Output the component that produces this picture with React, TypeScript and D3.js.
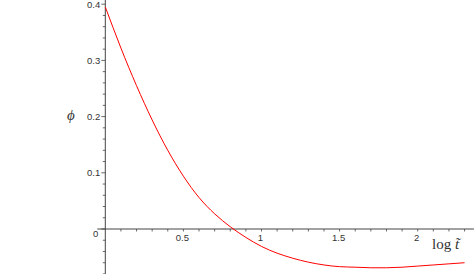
import React from 'react';
import { scaleLinear, line, range, curveNatural } from 'd3';

const width = 474;
const height = 274;

// log t~ sample points and phi
const logT = [0, 0.1, 0.2, 0.3, 0.4, 0.5, 0.6, 0.7, 0.8, 0.9, 1.0, 1.1, 1.2, 1.3, 1.4, 1.5, 1.6, 1.7, 1.8, 1.9, 2.0, 2.1, 2.2, 2.3];
const phi = [0.395, 0.322, 0.255, 0.194, 0.140, 0.094, 0.056, 0.027, 0.004, -0.015, -0.031, -0.043, -0.052, -0.059, -0.064, -0.067, -0.068, -0.069, -0.069, -0.068, -0.066, -0.064, -0.062, -0.060];

const xTickLabels = [0.5, 1, 1.5, 2];
const yTickLabels = [0.1, 0.2, 0.3, 0.4];

const xMax = 2.36;
const yMin = -0.08;
const yMax = 0.408;

function App() {
	const x = scaleLinear().domain([0, 2]).range([105.3, 417.7]);
	const y = scaleLinear().domain([0, 0.4]).range([229, 4.2]);

	const pts = logT.map((d, i) => [d, phi[i]] as [number, number]);
	const path = line<[number, number]>()
		.x((d) => x(d[0]))
		.y((d) => y(d[1]))
		.curve(curveNatural)(pts);

	const xMinor = range(1, 24).map((i) => i / 10);
	const yMinor = range(-4, 21).map((i) => i / 50);
	const axisColor = '#444';
	const labelFont = '"Liberation Sans", Arial, sans-serif';

	return (
		<svg
			width={width}
			height={height}
			style={{ position: 'absolute', left: 0, top: 0, background: '#fff' }}
		>
			{/* axes */}
			<line x1={x(0)} x2={x(0)} y1={y(yMax)} y2={y(yMin)} stroke={axisColor} strokeWidth={1} />
			<line x1={x(0) - 8} x2={x(xMax)} y1={y(0)} y2={y(0)} stroke={axisColor} strokeWidth={1} />

			{xMinor.map((t, i) => (
				<line key={'xm' + i} x1={x(t)} x2={x(t)} y1={y(0)} y2={y(0) + 2.5} stroke={axisColor} strokeWidth={0.8} />
			))}
			{yMinor.map((t, i) => {
				const major = Math.abs(Math.round(t * 10) - t * 10) < 1e-6;
				return (
					<line key={'ym' + i} x1={x(0) - (major ? 4 : 2.5)} x2={x(0)} y1={y(t)} y2={y(t)} stroke={axisColor} strokeWidth={0.8} />
				);
			})}

			{xTickLabels.map((t) => (
				<text key={'xl' + t} x={x(t) - 1} y={y(0) + 12} fontSize={9.5} fontFamily={labelFont} fill="#333" textAnchor="middle">
					{t}
				</text>
			))}
			{yTickLabels.map((t) => (
				<text key={'yl' + t} x={x(0) - 5} y={y(t) + 3.5} fontSize={9.5} fontFamily={labelFont} fill="#333" textAnchor="end">
					{t}
				</text>
			))}
			<text x={x(0) - 7} y={y(0) + 7.5} fontSize={9.5} fontFamily={labelFont} fill="#333" textAnchor="end">
				0
			</text>

			{/* axis titles */}
			<text x={71} y={120} fontSize={15} fontFamily='"Liberation Serif", "DejaVu Serif", serif' fontStyle="italic" fill="#333" textAnchor="middle">
				{'\u03d5'}
			</text>
			<text x={432} y={249} fontSize={15} fontFamily='"Liberation Serif", "DejaVu Serif", serif' fill="#333">
				log <tspan fontStyle="italic">{'t\u0303'}</tspan>
			</text>

			<path d={path || ''} fill="none" stroke="#f00" strokeWidth={1} />
		</svg>
	);
}

export default App;
